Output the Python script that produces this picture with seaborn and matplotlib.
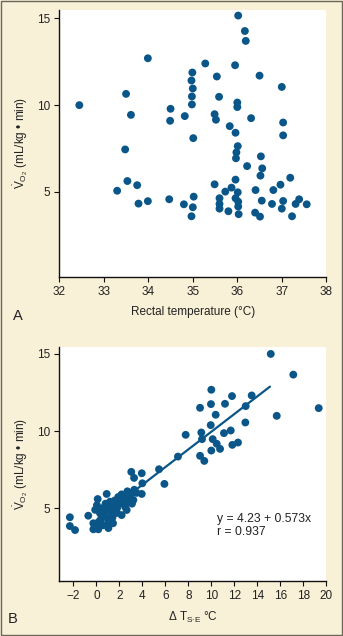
import matplotlib
matplotlib.use("Agg")
import matplotlib.pyplot as plt
import seaborn as sns
import pandas as pd
from matplotlib.patches import Rectangle

# ---------------- data ----------------
rectal_temp = [32.45, 36.02, 36.17, 36.19, 33.99, 35.28, 35.95, 34.99, 34.97, 35.00,
               34.98, 34.98, 35.54, 36.50, 37.00, 33.50, 35.59, 36.00, 36.00, 34.50,
               33.61, 34.82, 35.49, 35.52, 34.49, 36.31, 37.03, 35.83, 35.96, 37.03,
               35.01, 33.48, 36.01, 35.98, 36.53, 35.97, 36.22, 36.56, 36.52, 37.19,
               33.53, 33.75, 35.49, 35.96, 35.87, 36.97, 33.30, 35.73, 36.01, 36.41,
               36.81, 35.02, 35.60, 35.96, 34.47, 33.99, 33.78, 34.80, 35.60, 36.02,
               36.55, 37.03, 36.78, 37.39, 37.31, 37.56, 35.00, 36.02, 35.60, 35.80,
               37.00, 34.97, 36.03, 36.40, 36.51, 37.23]
vo2_a = [10.00, 15.16, 14.27, 13.70, 12.70, 12.40, 12.30, 11.88, 11.42, 10.96,
         10.50, 10.04, 11.65, 11.70, 11.05, 10.65, 10.48, 10.15, 9.89, 9.79,
         9.44, 9.37, 9.48, 9.16, 9.10, 9.25, 9.00, 8.79, 8.41, 8.26,
         8.10, 7.45, 7.64, 7.28, 7.05, 6.94, 6.49, 6.36, 5.94, 5.82,
         5.63, 5.39, 5.44, 5.71, 5.25, 5.42, 5.07, 5.02, 4.98, 5.11,
         5.11, 4.73, 4.64, 4.64, 4.58, 4.47, 4.33, 4.29, 4.31, 4.44,
         4.50, 4.48, 4.31, 4.58, 4.31, 4.29, 4.12, 4.16, 4.04, 3.89,
         4.04, 3.60, 3.72, 3.81, 3.58, 3.60]

delta_t = [15.17, 17.13, 19.34, 15.69, 10.00, 11.80, 13.51, 9.97, 11.19, 9.02,
           12.99, 10.38, 9.95, 12.96, 9.13, 11.69, 11.10, 7.77, 9.19, 10.12,
           10.47, 11.83, 12.32, 10.00, 10.76, 7.10, 9.02, 9.39, 5.45, 3.04,
           3.95, 3.28, 5.92, 4.00, 3.95,
           -2.30, -2.30, -1.85, -0.70, -0.26, -0.26, 0.17, 0.12, 0.05, -0.10,
           0.90, 0.32, 0.17, 1.05, 1.45, 1.20, 1.90, 1.80, 2.20, 2.50,
           2.64, 2.64, 3.07, 3.22, 0.50, 0.70, 0.90, 1.00, 1.30, 1.50,
           0.80, 1.10, 2.00, 2.30, 2.80, 2.90, 3.30, 3.50, 2.70, 1.60,
           0.40, 0.60, 1.80, 2.20, 3.10, 1.40, 0.95, 2.45, 1.15, 0.65]
vo2_b = [15.00, 13.66, 11.49, 10.99, 12.68, 12.27, 12.31, 11.75, 11.77, 11.51,
         11.62, 11.06, 10.39, 10.56, 9.91, 10.04, 9.87, 9.76, 9.48, 9.48,
         9.18, 9.11, 9.26, 8.74, 8.85, 8.35, 8.40, 8.07, 7.53, 7.36,
         7.27, 6.97, 6.58, 6.62, 5.93,
         4.42, 3.85, 3.59, 4.52, 4.03, 3.64, 3.64, 5.60, 5.20, 4.90,
         5.93, 4.68, 4.03, 3.72, 4.03, 5.43, 5.73, 4.70, 4.56, 5.10,
         4.89, 5.75, 5.97, 5.54, 5.00, 4.50, 4.90, 4.30, 4.70, 5.10,
         5.30, 4.10, 5.30, 5.60, 5.40, 5.80, 6.20, 6.00, 6.10, 5.50,
         4.30, 3.90, 5.00, 5.90, 5.30, 4.40, 3.95, 5.25, 5.05, 4.75]

fit_intercept = 4.23
fit_slope = 0.573
fit_r = 0.937
fit_x = [0.0, 15.1]
fit_y = [fit_intercept + fit_slope * v for v in fit_x]

xticks_a = [32, 33, 34, 35, 36, 37, 38]
xticks_b = [-2, 0, 2, 4, 6, 8, 10, 12, 14, 16, 18, 20]
yticks = [5, 10, 15]

# ---------------- style ----------------
sns.set_theme(style="white")
plt.rcParams['font.family'] = ['Liberation Sans', 'DejaVu Sans']
plt.rcParams['mathtext.fontset'] = 'custom'
plt.rcParams['mathtext.rm'] = 'Liberation Sans'
plt.rcParams['mathtext.it'] = 'Liberation Sans:italic'

BG = "#f8f0d7"
DOT = "#0b5689"
TXT = "#222222"
FS = 8.5

fig = plt.figure(figsize=(3.43, 6.36), dpi=100, facecolor=BG)
fig.patches.append(Rectangle((0.0015, 0.0008), 0.997, 0.9984, transform=fig.transFigure,
                             fill=False, edgecolor="#6a6658", linewidth=1.0))

W, H = 343.0, 636.0
def ax_rect(l, t, r, b):
    return [l / W, 1 - b / H, (r - l) / W, (b - t) / H]

ax1 = fig.add_axes(ax_rect(59.3, 10, 326.3, 276.7))
ax2 = fig.add_axes(ax_rect(59.3, 347.3, 326.3, 581))

df_a = pd.DataFrame({"temp": rectal_temp, "vo2": vo2_a})
df_b = pd.DataFrame({"dt": delta_t, "vo2": vo2_b})
df_fit = pd.DataFrame({"dt": fit_x, "vo2": fit_y})

sns.scatterplot(data=df_a, x="temp", y="vo2", ax=ax1, color=DOT, s=32,
                edgecolor="none", linewidth=0, zorder=3)
sns.scatterplot(data=df_b, x="dt", y="vo2", ax=ax2, color=DOT, s=32,
                edgecolor="none", linewidth=0, zorder=3)
sns.lineplot(data=df_fit, x="dt", y="vo2", ax=ax2, color=DOT, linewidth=1.6, zorder=2)

ylabel = r"$\dot{\mathrm{V}}_{\mathrm{O_2}}$ (mL/kg • min)"

for ax in (ax1, ax2):
    ax.set_facecolor("white")
    for s in ("top", "right"):
        ax.spines[s].set_visible(False)
    for s in ("left", "bottom"):
        ax.spines[s].set_color("#111111")
        ax.spines[s].set_linewidth(1.0)
    ax.tick_params(axis="both", which="major", direction="out", length=3.5, width=0.8,
                   color="#111111", labelsize=FS, labelcolor=TXT, pad=3,
                   bottom=True, left=True)
    ax.set_yticks(yticks)
    ax.set_ylabel(ylabel, fontsize=FS, color=TXT, labelpad=5)

ax1.set_xlim(32, 38)
ax1.set_ylim(0.12, 15.48)
ax1.set_xticks(xticks_a)
ax1.set_xlabel("Rectal temperature (°C)", fontsize=FS, color=TXT, labelpad=6)

ax2.set_xlim(-3.22, 20)
ax2.set_ylim(0.29, 15.43)
ax2.set_xticks(xticks_b)
ax2.set_xticklabels([f"{t}".replace("-", "\u2212") for t in xticks_b])
ax2.set_xlabel(r"Δ T$_{\mathrm{S{\cdot}E}}$ °C", fontsize=FS, color=TXT, labelpad=6)

ax2.text(0.589, 0.237, f"y = {fit_intercept} + {fit_slope}x\nr = {fit_r}",
         transform=ax2.transAxes, fontsize=8.7, color=TXT, va="center", ha="left",
         linespacing=1.1)

fig.text(18 / W, 1 - 316 / H, "A", fontsize=10.5, color=TXT, ha="center", va="center")
fig.text(13 / W, 1 - 619 / H, "B", fontsize=10.5, color=TXT, ha="center", va="center")

fig.savefig("out.png", dpi=100, facecolor=BG)
